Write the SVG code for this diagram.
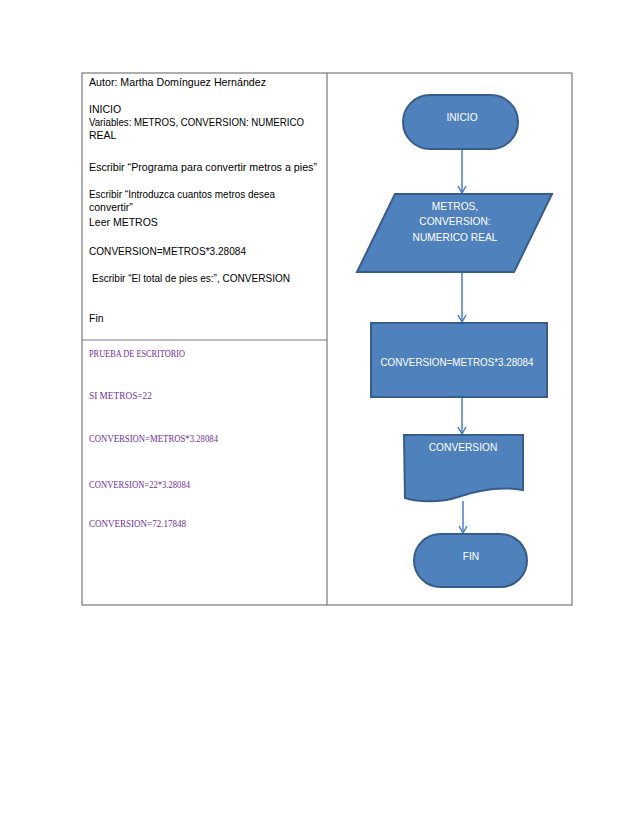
<svg xmlns="http://www.w3.org/2000/svg" width="638" height="826" viewBox="0 0 638 826">
<style>
.frame{fill:none;stroke:#7a7a7a;stroke-width:1.2}
.code{font-family:"Liberation Sans",Arial,sans-serif;font-size:10.5px;fill:#000}
.test{font-family:"Liberation Serif","Times New Roman",serif;font-size:9.3px;fill:#7030A0}
.shape{fill:#4F81BD;stroke:#385D8A;stroke-width:2}
.lbl{font-family:"Liberation Sans",Arial,sans-serif;font-size:10.2px;fill:#fff;text-anchor:middle}
.conn{stroke:#4A7EBB;stroke-width:1.5;fill:none;marker-end:url(#arr)}
</style>
<defs>
<marker id="arr" markerWidth="10" markerHeight="10" refX="8" refY="5" orient="auto" markerUnits="userSpaceOnUse">
<path d="M1,1 L8,5 L1,9" fill="none" stroke="#4A7EBB" stroke-width="1.5"/>
</marker>
</defs>
<rect width="638" height="826" fill="#fff"/>
<g id="table">
<rect class="frame" x="82" y="73" width="490" height="532"/>
<line class="frame" x1="327" y1="73" x2="327" y2="605"/>
<line class="frame" x1="82" y1="340" x2="327" y2="340"/>
</g>
<g id="pseudocode">
<text class="code" x="89" y="86" textLength="177" lengthAdjust="spacingAndGlyphs">Autor: Martha Domínguez Hernández</text>
<text class="code" x="89" y="113">INICIO</text>
<text class="code" x="89" y="126" textLength="215" lengthAdjust="spacingAndGlyphs">Variables: METROS, CONVERSION: NUMERICO</text>
<text class="code" x="89" y="139">REAL</text>
<text class="code" x="89" y="171" textLength="228" lengthAdjust="spacingAndGlyphs">Escribir “Programa para convertir metros a pies”</text>
<text class="code" x="89" y="198" textLength="186" lengthAdjust="spacingAndGlyphs">Escribir “Introduzca cuantos metros desea</text>
<text class="code" x="89" y="211">convertir”</text>
<text class="code" x="89" y="226">Leer METROS</text>
<text class="code" x="89" y="255" textLength="157" lengthAdjust="spacingAndGlyphs">CONVERSION=METROS*3.28084</text>
<text class="code" x="92" y="282" textLength="198" lengthAdjust="spacingAndGlyphs">Escribir “El total de pies es:”, CONVERSION</text>
<text class="code" x="89" y="322">Fin</text>
</g>
<g id="desk-test">
<text class="test" x="89" y="357" textLength="96" lengthAdjust="spacingAndGlyphs">PRUEBA DE ESCRITORIO</text>
<text class="test" x="89" y="399">SI METROS=22</text>
<text class="test" x="89" y="442" textLength="129" lengthAdjust="spacingAndGlyphs">CONVERSION=METROS*3.28084</text>
<text class="test" x="89" y="488" textLength="101" lengthAdjust="spacingAndGlyphs">CONVERSION=22*3.28084</text>
<text class="test" x="89" y="527" textLength="97" lengthAdjust="spacingAndGlyphs">CONVERSION=72.17848</text>
</g>
<g id="connectors">
<line class="conn" x1="462" y1="149" x2="462" y2="193"/>
<line class="conn" x1="462" y1="272" x2="462" y2="322"/>
<line class="conn" x1="462" y1="397" x2="462" y2="434"/>
<line class="conn" x1="463" y1="501" x2="463" y2="533"/>
</g>
<g id="n-inicio">
<rect class="shape" x="403" y="95" width="115" height="54" rx="27"/>
<text class="lbl" x="462" y="121">INICIO</text>
</g>
<g id="n-vars">
<polygon class="shape" points="395,194 552,194 514,272 357,272"/>
<text class="lbl" x="455" y="210">METROS,</text>
<text class="lbl" x="455" y="225">CONVERSION:</text>
<text class="lbl" x="455" y="241">NUMERICO REAL</text>
</g>
<g id="n-calc">
<rect class="shape" x="371" y="323" width="176" height="74"/>
<text class="lbl" x="457" y="366" textLength="153" lengthAdjust="spacingAndGlyphs">CONVERSION=METROS*3.28084</text>
</g>
<g id="n-out">
<path class="shape" d="M404,435 H523 V490 C500,486 478,490 458,497 C440,503 418,502 405,498 Z"/>
<text class="lbl" x="463" y="451">CONVERSION</text>
</g>
<g id="n-fin">
<rect class="shape" x="414" y="534" width="113" height="53" rx="26.5"/>
<text class="lbl" x="471" y="560">FIN</text>
</g>
</svg>
